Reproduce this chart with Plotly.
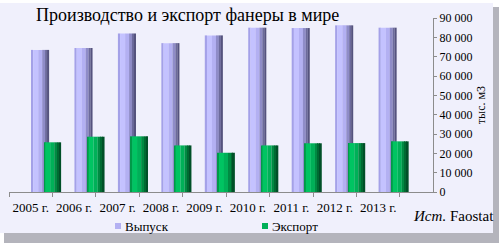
import plotly.graph_objects as go

years = ["2005 г.", "2006 г.", "2007 г.", "2008 г.", "2009 г.", "2010 г.", "2011 г.", "2012 г.", "2013 г."]
output_vals = [73500, 74500, 82000, 77000, 81000, 85000, 84800, 86200, 85000]
export_vals = [25700, 28600, 28800, 24100, 20300, 24100, 25200, 25300, 26200]
y_ticks = [0, 10000, 20000, 30000, 40000, 50000, 60000, 70000, 80000, 90000]
series_names = ["Выпуск", "Экспорт"]

FONT = "Liberation Serif"
CAT_PX = 43.44
PURPLE, GREEN = "#b3b0f2", "#00b058"

# cylinder-like shading: (fraction start, fraction end, colour)
purple_slices = [(0.0, 0.12, "#a4a1e8"), (0.12, 0.40, "#c4c2ff"), (0.40, 0.62, "#b3b0f2"),
                 (0.62, 0.78, "#8f8cc8"), (0.78, 0.89, "#6c6a9c"), (0.89, 1.0, "#55537e")]
green_slices = [(0.0, 0.07, "#009a48"), (0.07, 0.36, "#00c462"), (0.36, 0.60, "#00b058"),
                (0.60, 0.78, "#008a42"), (0.78, 0.89, "#006a32"), (0.89, 1.0, "#005028")]

fig = go.Figure()


def add_cyl(name, vals, slices, start_px, width_px):
    for f0, f1, col in slices:
        fig.add_trace(go.Bar(
            x=years, y=vals, name=name,
            offset=(start_px + f0 * width_px) / CAT_PX,
            width=(f1 - f0) * width_px / CAT_PX + 0.002,
            marker=dict(color=col, line=dict(width=0)),
            showlegend=False, hoverinfo="skip",
        ))


add_cyl(series_names[0], output_vals, purple_slices, 0.3, 18)
add_cyl(series_names[1], export_vals, green_slices, 13.3, 17)

W, H = 499, 243
L, R, T, B = 9, 66, 18, 51
pw, ph = W - L - R, H - T - B


def px_x(p):
    return (p - L) / pw


def px_y(p):
    return (H - B - p) / ph


shapes = [
    dict(type="rect", xref="paper", yref="paper", layer="below",
         x0=px_x(4), x1=px_x(499), y0=px_y(7), y1=px_y(243),
         fillcolor="#b4b4bc", line=dict(width=0)),
    dict(type="rect", xref="paper", yref="paper", layer="below",
         x0=px_x(0), x1=px_x(493), y0=px_y(3), y1=px_y(233),
         fillcolor="#f0f0fc", line=dict(width=0)),
    # legend swatches
    dict(type="rect", xref="paper", yref="paper",
         x0=px_x(115), x1=px_x(121), y0=px_y(229), y1=px_y(223),
         fillcolor=PURPLE, line=dict(width=0)),
    dict(type="rect", xref="paper", yref="paper",
         x0=px_x(262), x1=px_x(268), y0=px_y(229), y1=px_y(223),
         fillcolor=GREEN, line=dict(width=0)),
]

annotations = [
    dict(text="<i>Ист.</i> Faostat", xref="paper", yref="paper",
         x=px_x(496), y=px_y(216), xanchor="right", yanchor="middle",
         showarrow=False, font=dict(family=FONT, size=15, color="black")),
    dict(text=series_names[0], xref="paper", yref="paper",
         x=px_x(123), y=px_y(226), xanchor="left", yanchor="middle",
         showarrow=False, font=dict(family=FONT, size=13, color="black")),
    dict(text=series_names[1], xref="paper", yref="paper",
         x=px_x(270), y=px_y(226), xanchor="left", yanchor="middle",
         showarrow=False, font=dict(family=FONT, size=13, color="black")),
]

fig.update_layout(
    width=W, height=H,
    margin=dict(l=L, r=R, t=T, b=B),
    paper_bgcolor="white",
    plot_bgcolor="rgba(0,0,0,0)",
    barmode="overlay",
    separators=", ",
    showlegend=False,
    font=dict(family=FONT, size=12, color="black"),
    title=dict(text="Производство и экспорт фанеры в мире",
               font=dict(family=FONT, size=18, color="black"),
               x=px_x(36), xref="paper", xanchor="left",
               y=1 - 15 / H, yref="container", yanchor="middle"),
    xaxis=dict(type="category", range=[-0.5, 9.26], showgrid=False,
               showline=True, linecolor="#8c8c8c", linewidth=1,
               ticks="outside", tickson="boundaries", ticklen=4, tickcolor="#8c8c8c",
               ticklabelstandoff=3, tickangle=0,
               tickfont=dict(family=FONT, size=13), fixedrange=True),
    yaxis=dict(side="right", range=[0, 90000], tickvals=y_ticks, tickformat=",d",
               showgrid=False, zeroline=False,
               showline=True, linecolor="#8c8c8c", linewidth=1,
               ticks="outside", ticklen=3, tickcolor="#8c8c8c",
               tickfont=dict(family=FONT, size=12),
               title=dict(text="тыс. м3", font=dict(family=FONT, size=12), standoff=5)),
    shapes=shapes,
    annotations=annotations,
)

fig.write_html("out.html")
